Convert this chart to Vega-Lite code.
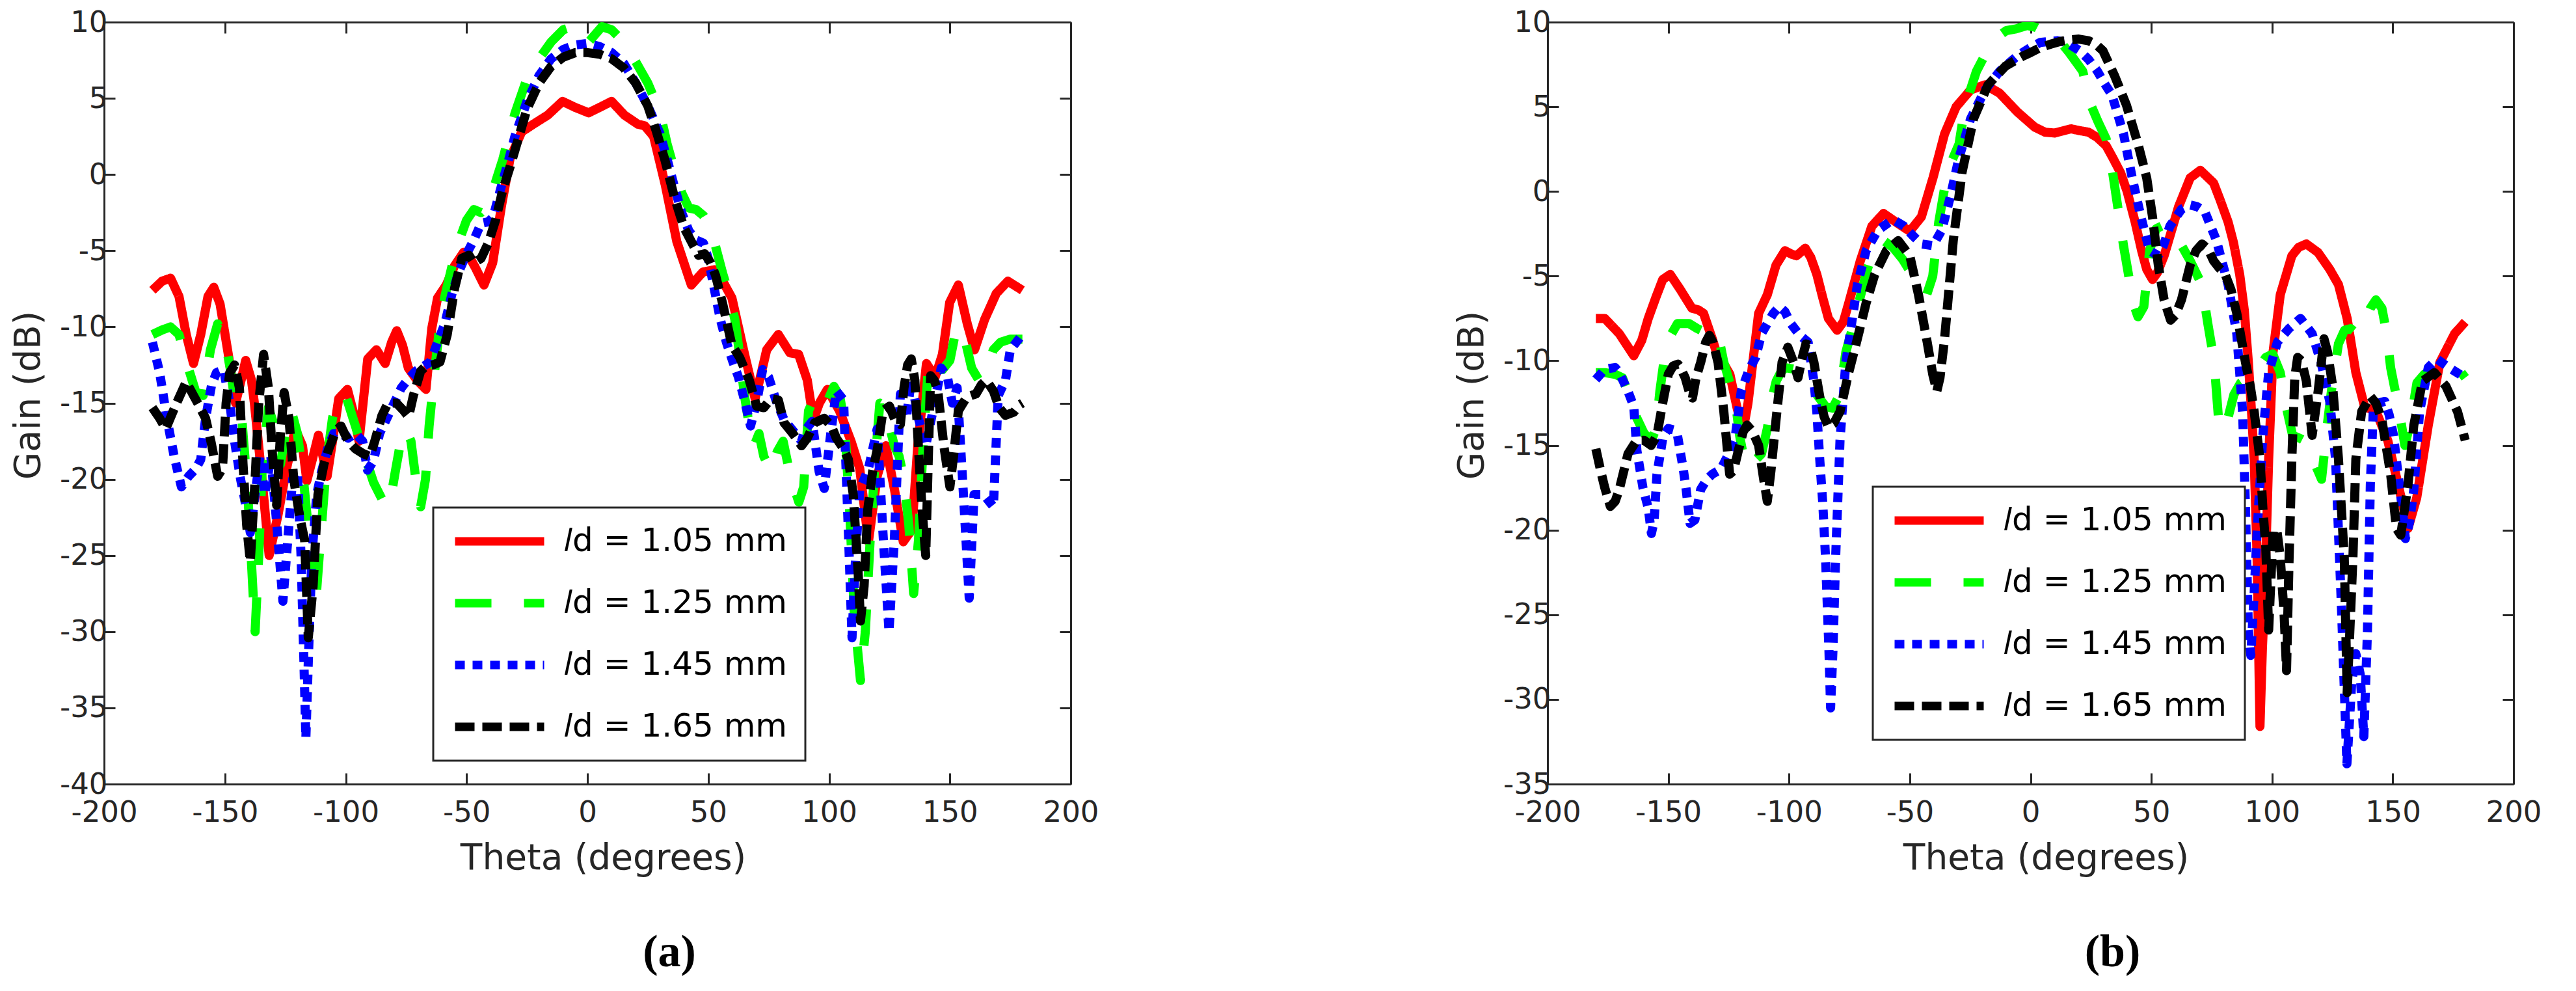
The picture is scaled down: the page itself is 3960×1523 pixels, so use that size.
{
  "$schema": "https://vega.github.io/schema/vega-lite/v6.json",
  "background": "white",
  "padding": {"left": 16, "top": 12, "right": 0, "bottom": 10},
  "datasets": {
    "a": [
      {"s":"1.05","x":-180,"y":-7.6},{"s":"1.05","x":-176,"y":-7},{"s":"1.05","x":-172.5,"y":-6.8},{"s":"1.05","x":-169,"y":-8},{"s":"1.05","x":-166,"y":-10.5},{"s":"1.05","x":-163,"y":-12.4},{"s":"1.05","x":-160,"y":-10.5},{"s":"1.05","x":-157,"y":-8},{"s":"1.05","x":-154.6,"y":-7.4},{"s":"1.05","x":-152,"y":-8.5},{"s":"1.05","x":-148.6,"y":-11.8},{"s":"1.05","x":-145.6,"y":-15},{"s":"1.05","x":-143,"y":-13.3},{"s":"1.05","x":-141.4,"y":-12.2},{"s":"1.05","x":-139,"y":-13.5},{"s":"1.05","x":-137.8,"y":-15},{"s":"1.05","x":-134.2,"y":-20.7},{"s":"1.05","x":-131.7,"y":-25},{"s":"1.05","x":-128.1,"y":-22.4},{"s":"1.05","x":-124.5,"y":-19.3},{"s":"1.05","x":-120.9,"y":-16.7},{"s":"1.05","x":-117.9,"y":-17.8},{"s":"1.05","x":-116.1,"y":-20.1},{"s":"1.05","x":-113.5,"y":-18.5},{"s":"1.05","x":-111.3,"y":-17.1},{"s":"1.05","x":-107.7,"y":-19.8},{"s":"1.05","x":-105,"y":-17},{"s":"1.05","x":-102.9,"y":-14.7},{"s":"1.05","x":-99.3,"y":-14.1},{"s":"1.05","x":-97,"y":-15.5},{"s":"1.05","x":-94.5,"y":-17.5},{"s":"1.05","x":-92.5,"y":-14.5},{"s":"1.05","x":-90.9,"y":-12.1},{"s":"1.05","x":-87.3,"y":-11.5},{"s":"1.05","x":-83.7,"y":-12.4},{"s":"1.05","x":-81,"y":-11},{"s":"1.05","x":-78.9,"y":-10.25},{"s":"1.05","x":-76.5,"y":-11.2},{"s":"1.05","x":-74.1,"y":-12.7},{"s":"1.05","x":-70.5,"y":-13.5},{"s":"1.05","x":-66.8,"y":-14.1},{"s":"1.05","x":-64.4,"y":-10.1},{"s":"1.05","x":-62,"y":-8.1},{"s":"1.05","x":-58.4,"y":-7.25},{"s":"1.05","x":-55,"y":-6},{"s":"1.05","x":-51.2,"y":-5.1},{"s":"1.05","x":-48.5,"y":-5.5},{"s":"1.05","x":-46.4,"y":-6.1},{"s":"1.05","x":-42.8,"y":-7.25},{"s":"1.05","x":-39.2,"y":-5.8},{"s":"1.05","x":-35.6,"y":-2.1},{"s":"1.05","x":-32,"y":1.05},{"s":"1.05","x":-27.2,"y":2.8},{"s":"1.05","x":-22.4,"y":3.3},{"s":"1.05","x":-16.4,"y":3.9},{"s":"1.05","x":-10.3,"y":4.8},{"s":"1.05","x":-5,"y":4.4},{"s":"1.05","x":0.5,"y":4.05},{"s":"1.05","x":5,"y":4.4},{"s":"1.05","x":10,"y":4.8},{"s":"1.05","x":15.3,"y":3.9},{"s":"1.05","x":20.9,"y":3.3},{"s":"1.05","x":23.7,"y":3.2},{"s":"1.05","x":27.4,"y":2.5},{"s":"1.05","x":32.2,"y":-0.67},{"s":"1.05","x":37,"y":-4.4},{"s":"1.05","x":43,"y":-7.25},{"s":"1.05","x":47.8,"y":-6.4},{"s":"1.05","x":52.6,"y":-6.25},{"s":"1.05","x":56,"y":-7},{"s":"1.05","x":59.8,"y":-8.1},{"s":"1.05","x":64.6,"y":-11.5},{"s":"1.05","x":69.4,"y":-14.7},{"s":"1.05","x":72,"y":-13},{"s":"1.05","x":74.2,"y":-11.5},{"s":"1.05","x":79,"y":-10.5},{"s":"1.05","x":83.8,"y":-11.7},{"s":"1.05","x":87.4,"y":-11.8},{"s":"1.05","x":91,"y":-13.5},{"s":"1.05","x":93.5,"y":-16.1},{"s":"1.05","x":96,"y":-15},{"s":"1.05","x":99.3,"y":-14.1},{"s":"1.05","x":104.3,"y":-15.5},{"s":"1.05","x":109.1,"y":-17.5},{"s":"1.05","x":112.7,"y":-19.3},{"s":"1.05","x":116.3,"y":-24.1},{"s":"1.05","x":119.9,"y":-19.8},{"s":"1.05","x":123.5,"y":-17.8},{"s":"1.05","x":127.1,"y":-20.7},{"s":"1.05","x":130.7,"y":-24.1},{"s":"1.05","x":134.3,"y":-23.3},{"s":"1.05","x":136.7,"y":-17.8},{"s":"1.05","x":140.3,"y":-12.4},{"s":"1.05","x":143.9,"y":-13.3},{"s":"1.05","x":146.9,"y":-11.8},{"s":"1.05","x":149.9,"y":-8.4},{"s":"1.05","x":153.5,"y":-7.25},{"s":"1.05","x":157.2,"y":-9.8},{"s":"1.05","x":160.2,"y":-11.5},{"s":"1.05","x":164.4,"y":-9.5},{"s":"1.05","x":169.2,"y":-7.8},{"s":"1.05","x":174,"y":-7},{"s":"1.05","x":180,"y":-7.6},

      {"s":"1.25","x":-180,"y":-10.5},{"s":"1.25","x":-176,"y":-10.2},{"s":"1.25","x":-172.5,"y":-10},{"s":"1.25","x":-169,"y":-10.5},{"s":"1.25","x":-165.5,"y":-12.5},{"s":"1.25","x":-162,"y":-14.3},{"s":"1.25","x":-159,"y":-14.5},{"s":"1.25","x":-156,"y":-11.5},{"s":"1.25","x":-153,"y":-9.8},{"s":"1.25","x":-150,"y":-10.8},{"s":"1.25","x":-147.5,"y":-13},{"s":"1.25","x":-145.5,"y":-15.3},{"s":"1.25","x":-143,"y":-16},{"s":"1.25","x":-140.5,"y":-21},{"s":"1.25","x":-138.5,"y":-27},{"s":"1.25","x":-137.5,"y":-30},{"s":"1.25","x":-136,"y":-25},{"s":"1.25","x":-134.5,"y":-19},{"s":"1.25","x":-132,"y":-15.3},{"s":"1.25","x":-129.5,"y":-16.5},{"s":"1.25","x":-127,"y":-19},{"s":"1.25","x":-125,"y":-17},{"s":"1.25","x":-122.5,"y":-15.5},{"s":"1.25","x":-120,"y":-17},{"s":"1.25","x":-117.5,"y":-20},{"s":"1.25","x":-115,"y":-24},{"s":"1.25","x":-112.5,"y":-28.3},{"s":"1.25","x":-110.5,"y":-24},{"s":"1.25","x":-108,"y":-19},{"s":"1.25","x":-105.5,"y":-16},{"s":"1.25","x":-103,"y":-14.5},{"s":"1.25","x":-100,"y":-14.5},{"s":"1.25","x":-97,"y":-16},{"s":"1.25","x":-94,"y":-17.5},{"s":"1.25","x":-91,"y":-19},{"s":"1.25","x":-88.5,"y":-20.2},{"s":"1.25","x":-85,"y":-21.3},{"s":"1.25","x":-82,"y":-21.8},{"s":"1.25","x":-79.5,"y":-19.5},{"s":"1.25","x":-77,"y":-17.3},{"s":"1.25","x":-75,"y":-16.7},{"s":"1.25","x":-73,"y":-17.5},{"s":"1.25","x":-71,"y":-20},{"s":"1.25","x":-69,"y":-21.8},{"s":"1.25","x":-67,"y":-20},{"s":"1.25","x":-65.5,"y":-16.5},{"s":"1.25","x":-63.5,"y":-13.3},{"s":"1.25","x":-61.5,"y":-10.5},{"s":"1.25","x":-59,"y":-8},{"s":"1.25","x":-56,"y":-6},{"s":"1.25","x":-53,"y":-4.3},{"s":"1.25","x":-50,"y":-3},{"s":"1.25","x":-47,"y":-2.3},{"s":"1.25","x":-44,"y":-2.5},{"s":"1.25","x":-41,"y":-2},{"s":"1.25","x":-38,"y":-0.5},{"s":"1.25","x":-35,"y":1},{"s":"1.25","x":-32,"y":2.8},{"s":"1.25","x":-30,"y":4},{"s":"1.25","x":-25,"y":6.3},{"s":"1.25","x":-20,"y":7.6},{"s":"1.25","x":-15,"y":8.7},{"s":"1.25","x":-10,"y":9.5},{"s":"1.25","x":-6,"y":9.7},{"s":"1.25","x":0,"y":8.6},{"s":"1.25","x":6,"y":9.7},{"s":"1.25","x":10,"y":9.5},{"s":"1.25","x":15,"y":8.7},{"s":"1.25","x":20,"y":7.4},{"s":"1.25","x":25,"y":6},{"s":"1.25","x":30,"y":4.1},{"s":"1.25","x":33,"y":2},{"s":"1.25","x":36,"y":0.3},{"s":"1.25","x":39,"y":-1.2},{"s":"1.25","x":42,"y":-2.2},{"s":"1.25","x":45,"y":-2.3},{"s":"1.25","x":48,"y":-2.7},{"s":"1.25","x":51,"y":-3.5},{"s":"1.25","x":53.5,"y":-5},{"s":"1.25","x":56,"y":-6.5},{"s":"1.25","x":58.5,"y":-7.8},{"s":"1.25","x":61,"y":-9.5},{"s":"1.25","x":63,"y":-11.8},{"s":"1.25","x":65,"y":-14.5},{"s":"1.25","x":67,"y":-16.5},{"s":"1.25","x":69,"y":-17.8},{"s":"1.25","x":71,"y":-17},{"s":"1.25","x":73,"y":-18.5},{"s":"1.25","x":76,"y":-19.5},{"s":"1.25","x":78.5,"y":-18.2},{"s":"1.25","x":81,"y":-17.5},{"s":"1.25","x":84,"y":-19.8},{"s":"1.25","x":87.5,"y":-21.5},{"s":"1.25","x":89.5,"y":-20.5},{"s":"1.25","x":91.5,"y":-15.5},{"s":"1.25","x":94,"y":-14.6},{"s":"1.25","x":96.5,"y":-15.2},{"s":"1.25","x":99,"y":-15},{"s":"1.25","x":102,"y":-13.9},{"s":"1.25","x":104.5,"y":-14.6},{"s":"1.25","x":106.5,"y":-16.5},{"s":"1.25","x":108.5,"y":-22},{"s":"1.25","x":110.5,"y":-29},{"s":"1.25","x":113,"y":-33.2},{"s":"1.25","x":115,"y":-30},{"s":"1.25","x":117,"y":-24},{"s":"1.25","x":119,"y":-19},{"s":"1.25","x":121,"y":-15},{"s":"1.25","x":123,"y":-15.2},{"s":"1.25","x":125,"y":-16.5},{"s":"1.25","x":127,"y":-17.8},{"s":"1.25","x":129,"y":-18.5},{"s":"1.25","x":131,"y":-20},{"s":"1.25","x":133,"y":-23},{"s":"1.25","x":135,"y":-27.5},{"s":"1.25","x":137,"y":-24},{"s":"1.25","x":139,"y":-17.5},{"s":"1.25","x":141,"y":-12.8},{"s":"1.25","x":144,"y":-12},{"s":"1.25","x":147,"y":-12.8},{"s":"1.25","x":150,"y":-12.2},{"s":"1.25","x":152,"y":-10.6},{"s":"1.25","x":154,"y":-10},{"s":"1.25","x":156.5,"y":-11},{"s":"1.25","x":159,"y":-12.7},{"s":"1.25","x":162,"y":-13.5},{"s":"1.25","x":165,"y":-12.8},{"s":"1.25","x":168,"y":-11.5},{"s":"1.25","x":171,"y":-11},{"s":"1.25","x":175,"y":-10.8},{"s":"1.25","x":180,"y":-10.8},

      {"s":"1.45","x":-180,"y":-11},{"s":"1.45","x":-177,"y":-13},{"s":"1.45","x":-174,"y":-16},{"s":"1.45","x":-171,"y":-18.5},{"s":"1.45","x":-168,"y":-20.5},{"s":"1.45","x":-165,"y":-19.8},{"s":"1.45","x":-162,"y":-19.3},{"s":"1.45","x":-160,"y":-18.7},{"s":"1.45","x":-158,"y":-16},{"s":"1.45","x":-155.5,"y":-13.8},{"s":"1.45","x":-153.5,"y":-13},{"s":"1.45","x":-150.5,"y":-12.8},{"s":"1.45","x":-148,"y":-15},{"s":"1.45","x":-146,"y":-17.5},{"s":"1.45","x":-143.5,"y":-20},{"s":"1.45","x":-141,"y":-22},{"s":"1.45","x":-139.5,"y":-23.5},{"s":"1.45","x":-137.5,"y":-21},{"s":"1.45","x":-135.5,"y":-18.5},{"s":"1.45","x":-133.5,"y":-21},{"s":"1.45","x":-131,"y":-18.5},{"s":"1.45","x":-128.5,"y":-23},{"s":"1.45","x":-126,"y":-28},{"s":"1.45","x":-124,"y":-24},{"s":"1.45","x":-122,"y":-20},{"s":"1.45","x":-120,"y":-19.5},{"s":"1.45","x":-118.5,"y":-25},{"s":"1.45","x":-117.3,"y":-32},{"s":"1.45","x":-116.5,"y":-37},{"s":"1.45","x":-115.3,"y":-31},{"s":"1.45","x":-114,"y":-25},{"s":"1.45","x":-112,"y":-21},{"s":"1.45","x":-110,"y":-19.5},{"s":"1.45","x":-107.5,"y":-18},{"s":"1.45","x":-105,"y":-17},{"s":"1.45","x":-102,"y":-17},{"s":"1.45","x":-99,"y":-17.3},{"s":"1.45","x":-96,"y":-17},{"s":"1.45","x":-93,"y":-17.5},{"s":"1.45","x":-91,"y":-19.4},{"s":"1.45","x":-88.5,"y":-18.8},{"s":"1.45","x":-86,"y":-17},{"s":"1.45","x":-83,"y":-16},{"s":"1.45","x":-80,"y":-15},{"s":"1.45","x":-77,"y":-14},{"s":"1.45","x":-74,"y":-13.4},{"s":"1.45","x":-71,"y":-12.9},{"s":"1.45","x":-68,"y":-12.6},{"s":"1.45","x":-65,"y":-12.3},{"s":"1.45","x":-62,"y":-11},{"s":"1.45","x":-59,"y":-9.8},{"s":"1.45","x":-56,"y":-7.8},{"s":"1.45","x":-53,"y":-6.3},{"s":"1.45","x":-50,"y":-5.2},{"s":"1.45","x":-47,"y":-4.3},{"s":"1.45","x":-44,"y":-3.2},{"s":"1.45","x":-41,"y":-3.1},{"s":"1.45","x":-39,"y":-2.8},{"s":"1.45","x":-36,"y":-1},{"s":"1.45","x":-33,"y":0.7},{"s":"1.45","x":-30,"y":2.5},{"s":"1.45","x":-25,"y":4.8},{"s":"1.45","x":-20,"y":6.5},{"s":"1.45","x":-15,"y":7.6},{"s":"1.45","x":-10,"y":8.2},{"s":"1.45","x":-5,"y":8.5},{"s":"1.45","x":0,"y":8.6},{"s":"1.45","x":5,"y":8.4},{"s":"1.45","x":10,"y":8},{"s":"1.45","x":15,"y":7.3},{"s":"1.45","x":20,"y":6},{"s":"1.45","x":25,"y":4.5},{"s":"1.45","x":30,"y":2.7},{"s":"1.45","x":33,"y":1},{"s":"1.45","x":36,"y":-0.8},{"s":"1.45","x":39,"y":-2.5},{"s":"1.45","x":42,"y":-3.7},{"s":"1.45","x":45,"y":-4.3},{"s":"1.45","x":48,"y":-4.5},{"s":"1.45","x":50,"y":-5.5},{"s":"1.45","x":52.5,"y":-7.5},{"s":"1.45","x":55,"y":-9.5},{"s":"1.45","x":57.5,"y":-11},{"s":"1.45","x":60,"y":-12.2},{"s":"1.45","x":62.5,"y":-13.3},{"s":"1.45","x":65,"y":-14.8},{"s":"1.45","x":67.5,"y":-16.5},{"s":"1.45","x":70,"y":-15},{"s":"1.45","x":72.5,"y":-12.8},{"s":"1.45","x":75,"y":-13.3},{"s":"1.45","x":78,"y":-14.8},{"s":"1.45","x":81.4,"y":-16.1},{"s":"1.45","x":85,"y":-16.8},{"s":"1.45","x":88.6,"y":-17.5},{"s":"1.45","x":90,"y":-16.8},{"s":"1.45","x":93,"y":-16.2},{"s":"1.45","x":95.9,"y":-19.5},{"s":"1.45","x":98,"y":-20.6},{"s":"1.45","x":100.7,"y":-17},{"s":"1.45","x":103,"y":-14.2},{"s":"1.45","x":106,"y":-14.8},{"s":"1.45","x":108,"y":-23.5},{"s":"1.45","x":109.5,"y":-30.4},{"s":"1.45","x":111,"y":-25},{"s":"1.45","x":112.7,"y":-20.7},{"s":"1.45","x":116.3,"y":-19.3},{"s":"1.45","x":119.9,"y":-16.7},{"s":"1.45","x":122.3,"y":-23.5},{"s":"1.45","x":124.8,"y":-30},{"s":"1.45","x":127,"y":-24},{"s":"1.45","x":129.5,"y":-14.4},{"s":"1.45","x":132,"y":-16},{"s":"1.45","x":134,"y":-13.5},{"s":"1.45","x":137,"y":-16},{"s":"1.45","x":140,"y":-17.8},{"s":"1.45","x":143,"y":-15.5},{"s":"1.45","x":146.4,"y":-12.7},{"s":"1.45","x":149,"y":-13.3},{"s":"1.45","x":151,"y":-15},{"s":"1.45","x":153,"y":-14},{"s":"1.45","x":155.5,"y":-20.7},{"s":"1.45","x":158,"y":-27.8},{"s":"1.45","x":160,"y":-21},{"s":"1.45","x":164,"y":-21},{"s":"1.45","x":168,"y":-21.8},{"s":"1.45","x":170,"y":-14.5},{"s":"1.45","x":173,"y":-13.5},{"s":"1.45","x":175,"y":-11.5},{"s":"1.45","x":179,"y":-10.7},{"s":"1.45","x":180,"y":-10.5},

      {"s":"1.65","x":-180,"y":-15.3},{"s":"1.65","x":-177,"y":-16},{"s":"1.65","x":-174.5,"y":-16.7},{"s":"1.65","x":-170,"y":-15},{"s":"1.65","x":-166,"y":-13.6},{"s":"1.65","x":-163,"y":-14.5},{"s":"1.65","x":-160.9,"y":-15.1},{"s":"1.65","x":-158,"y":-16},{"s":"1.65","x":-155.8,"y":-17.5},{"s":"1.65","x":-153,"y":-19.8},{"s":"1.65","x":-151,"y":-19.3},{"s":"1.65","x":-149.5,"y":-15},{"s":"1.65","x":-148,"y":-13},{"s":"1.65","x":-146,"y":-12.5},{"s":"1.65","x":-144,"y":-14},{"s":"1.65","x":-142.5,"y":-19},{"s":"1.65","x":-141,"y":-23},{"s":"1.65","x":-139.5,"y":-25.4},{"s":"1.65","x":-137.5,"y":-20},{"s":"1.65","x":-136,"y":-15},{"s":"1.65","x":-134,"y":-11.8},{"s":"1.65","x":-132,"y":-14},{"s":"1.65","x":-130.5,"y":-18},{"s":"1.65","x":-128.6,"y":-21.7},{"s":"1.65","x":-127,"y":-17},{"s":"1.65","x":-125.5,"y":-14.3},{"s":"1.65","x":-123.5,"y":-16},{"s":"1.65","x":-121.5,"y":-20},{"s":"1.65","x":-119,"y":-22.5},{"s":"1.65","x":-117,"y":-24},{"s":"1.65","x":-115.5,"y":-30.4},{"s":"1.65","x":-113.5,"y":-27},{"s":"1.65","x":-111.5,"y":-21},{"s":"1.65","x":-109,"y":-19},{"s":"1.65","x":-107,"y":-18},{"s":"1.65","x":-104,"y":-16.8},{"s":"1.65","x":-102,"y":-16.5},{"s":"1.65","x":-99,"y":-17.5},{"s":"1.65","x":-96,"y":-18},{"s":"1.65","x":-93,"y":-18.3},{"s":"1.65","x":-90,"y":-18.5},{"s":"1.65","x":-88,"y":-17.5},{"s":"1.65","x":-85,"y":-15.8},{"s":"1.65","x":-82.5,"y":-15},{"s":"1.65","x":-79,"y":-15},{"s":"1.65","x":-76,"y":-15.5},{"s":"1.65","x":-74,"y":-15.9},{"s":"1.65","x":-72,"y":-14.5},{"s":"1.65","x":-69,"y":-12.9},{"s":"1.65","x":-67,"y":-12.6},{"s":"1.65","x":-64,"y":-12.5},{"s":"1.65","x":-61,"y":-12.3},{"s":"1.65","x":-58,"y":-10.5},{"s":"1.65","x":-55,"y":-7.5},{"s":"1.65","x":-52,"y":-5.5},{"s":"1.65","x":-49,"y":-5.3},{"s":"1.65","x":-47,"y":-5.8},{"s":"1.65","x":-44,"y":-5.5},{"s":"1.65","x":-41,"y":-4.5},{"s":"1.65","x":-38,"y":-3},{"s":"1.65","x":-35,"y":-1},{"s":"1.65","x":-32,"y":0.5},{"s":"1.65","x":-29.6,"y":1.8},{"s":"1.65","x":-25,"y":4.3},{"s":"1.65","x":-20,"y":6},{"s":"1.65","x":-15,"y":7.1},{"s":"1.65","x":-10,"y":7.7},{"s":"1.65","x":-5,"y":8},{"s":"1.65","x":0,"y":8},{"s":"1.65","x":5,"y":7.9},{"s":"1.65","x":10,"y":7.6},{"s":"1.65","x":15,"y":7},{"s":"1.65","x":20,"y":6},{"s":"1.65","x":25,"y":4.5},{"s":"1.65","x":28.6,"y":2.8},{"s":"1.65","x":32,"y":1},{"s":"1.65","x":36,"y":-1.5},{"s":"1.65","x":40,"y":-3.5},{"s":"1.65","x":43,"y":-4.4},{"s":"1.65","x":46,"y":-5.3},{"s":"1.65","x":48.5,"y":-5.2},{"s":"1.65","x":51,"y":-5.8},{"s":"1.65","x":53,"y":-6.6},{"s":"1.65","x":56,"y":-8.5},{"s":"1.65","x":59.8,"y":-11.2},{"s":"1.65","x":63,"y":-12},{"s":"1.65","x":67,"y":-13.5},{"s":"1.65","x":70,"y":-15.2},{"s":"1.65","x":73,"y":-15.3},{"s":"1.65","x":76,"y":-14.7},{"s":"1.65","x":79,"y":-14.8},{"s":"1.65","x":81.4,"y":-16.3},{"s":"1.65","x":85,"y":-17},{"s":"1.65","x":88.6,"y":-17.8},{"s":"1.65","x":91,"y":-17.3},{"s":"1.65","x":94,"y":-16.3},{"s":"1.65","x":98,"y":-16},{"s":"1.65","x":101,"y":-16.5},{"s":"1.65","x":103,"y":-17.3},{"s":"1.65","x":106,"y":-18},{"s":"1.65","x":108,"y":-18.7},{"s":"1.65","x":110,"y":-21},{"s":"1.65","x":112,"y":-26},{"s":"1.65","x":113,"y":-29.3},{"s":"1.65","x":114.5,"y":-27},{"s":"1.65","x":116,"y":-22},{"s":"1.65","x":118,"y":-19.5},{"s":"1.65","x":120,"y":-18},{"s":"1.65","x":122.3,"y":-15.5},{"s":"1.65","x":125,"y":-15.2},{"s":"1.65","x":127.5,"y":-16.2},{"s":"1.65","x":129.5,"y":-16.4},{"s":"1.65","x":131,"y":-14},{"s":"1.65","x":132.5,"y":-12.5},{"s":"1.65","x":134,"y":-12.1},{"s":"1.65","x":135.5,"y":-13.5},{"s":"1.65","x":137,"y":-18},{"s":"1.65","x":138.5,"y":-22},{"s":"1.65","x":140,"y":-25},{"s":"1.65","x":141,"y":-19},{"s":"1.65","x":142,"y":-13.2},{"s":"1.65","x":143.5,"y":-13.5},{"s":"1.65","x":145,"y":-14.2},{"s":"1.65","x":147.5,"y":-17.8},{"s":"1.65","x":150,"y":-20.5},{"s":"1.65","x":151.5,"y":-18.5},{"s":"1.65","x":153.5,"y":-15.5},{"s":"1.65","x":157,"y":-14.6},{"s":"1.65","x":160.8,"y":-14.4},{"s":"1.65","x":163,"y":-13.8},{"s":"1.65","x":165,"y":-13.5},{"s":"1.65","x":168,"y":-14.2},{"s":"1.65","x":170.4,"y":-15.3},{"s":"1.65","x":173,"y":-15.8},{"s":"1.65","x":176.4,"y":-15.6},{"s":"1.65","x":179,"y":-15.1},{"s":"1.65","x":180,"y":-15}
    ],
    "b": [
      {"s":"1.05","x":-180,"y":-7.5},{"s":"1.05","x":-176.3,"y":-7.5},{"s":"1.05","x":-170.3,"y":-8.4},{"s":"1.05","x":-164.3,"y":-9.7},{"s":"1.05","x":-161,"y":-8.8},{"s":"1.05","x":-158.3,"y":-7.5},{"s":"1.05","x":-155,"y":-6.2},{"s":"1.05","x":-152.3,"y":-5.2},{"s":"1.05","x":-149.2,"y":-4.9},{"s":"1.05","x":-145,"y":-5.8},{"s":"1.05","x":-140.2,"y":-6.9},{"s":"1.05","x":-137.5,"y":-7},{"s":"1.05","x":-135.4,"y":-7.2},{"s":"1.05","x":-131.8,"y":-8.7},{"s":"1.05","x":-129,"y":-10},{"s":"1.05","x":-126.5,"y":-10.3},{"s":"1.05","x":-124.5,"y":-10.8},{"s":"1.05","x":-121.5,"y":-12.8},{"s":"1.05","x":-119,"y":-14.1},{"s":"1.05","x":-117,"y":-12.5},{"s":"1.05","x":-115,"y":-10.1},{"s":"1.05","x":-112.6,"y":-7.2},{"s":"1.05","x":-109,"y":-6.1},{"s":"1.05","x":-105.4,"y":-4.35},{"s":"1.05","x":-101.7,"y":-3.5},{"s":"1.05","x":-99,"y":-3.7},{"s":"1.05","x":-96.9,"y":-3.8},{"s":"1.05","x":-93.3,"y":-3.35},{"s":"1.05","x":-91,"y":-3.9},{"s":"1.05","x":-88.5,"y":-4.9},{"s":"1.05","x":-86,"y":-6.3},{"s":"1.05","x":-83.7,"y":-7.5},{"s":"1.05","x":-80.1,"y":-8.2},{"s":"1.05","x":-77.5,"y":-7.7},{"s":"1.05","x":-75.3,"y":-6.6},{"s":"1.05","x":-70.5,"y":-4.1},{"s":"1.05","x":-65.7,"y":-2.05},{"s":"1.05","x":-60.9,"y":-1.3},{"s":"1.05","x":-54.8,"y":-1.9},{"s":"1.05","x":-50,"y":-2.35},{"s":"1.05","x":-45.2,"y":-1.5},{"s":"1.05","x":-40.4,"y":0.8},{"s":"1.05","x":-35.6,"y":3.4},{"s":"1.05","x":-30.8,"y":5},{"s":"1.05","x":-24.8,"y":6},{"s":"1.05","x":-18.8,"y":6.3},{"s":"1.05","x":-12.8,"y":5.8},{"s":"1.05","x":-5.5,"y":4.7},{"s":"1.05","x":1.7,"y":3.8},{"s":"1.05","x":6,"y":3.5},{"s":"1.05","x":10,"y":3.45},{"s":"1.05","x":16.8,"y":3.7},{"s":"1.05","x":20,"y":3.6},{"s":"1.05","x":24,"y":3.5},{"s":"1.05","x":27.5,"y":3.2},{"s":"1.05","x":31.3,"y":2.7},{"s":"1.05","x":34,"y":2},{"s":"1.05","x":37.3,"y":1.1},{"s":"1.05","x":40,"y":0},{"s":"1.05","x":43.3,"y":-1.8},{"s":"1.05","x":46,"y":-3.5},{"s":"1.05","x":48.1,"y":-4.6},{"s":"1.05","x":50.5,"y":-5.2},{"s":"1.05","x":52.5,"y":-4.8},{"s":"1.05","x":55.3,"y":-3.8},{"s":"1.05","x":58,"y":-2.5},{"s":"1.05","x":61.3,"y":-0.9},{"s":"1.05","x":66.1,"y":0.8},{"s":"1.05","x":70.3,"y":1.25},{"s":"1.05","x":75.8,"y":0.5},{"s":"1.05","x":78.5,"y":-0.5},{"s":"1.05","x":81.8,"y":-1.8},{"s":"1.05","x":84,"y":-3},{"s":"1.05","x":86.6,"y":-4.9},{"s":"1.05","x":88.5,"y":-7},{"s":"1.05","x":90.2,"y":-10.1},{"s":"1.05","x":91.5,"y":-13},{"s":"1.05","x":92.6,"y":-15.8},{"s":"1.05","x":93.8,"y":-21.6},{"s":"1.05","x":95,"y":-31.6},{"s":"1.05","x":96,"y":-27},{"s":"1.05","x":96.8,"y":-24.4},{"s":"1.05","x":98.6,"y":-15.8},{"s":"1.05","x":100.4,"y":-9.5},{"s":"1.05","x":103.4,"y":-6.1},{"s":"1.05","x":108.2,"y":-3.8},{"s":"1.05","x":111,"y":-3.3},{"s":"1.05","x":114.2,"y":-3.1},{"s":"1.05","x":119,"y":-3.6},{"s":"1.05","x":123.9,"y":-4.6},{"s":"1.05","x":127.5,"y":-5.5},{"s":"1.05","x":131.1,"y":-7.5},{"s":"1.05","x":134.7,"y":-10.7},{"s":"1.05","x":138.3,"y":-12.7},{"s":"1.05","x":143.1,"y":-13},{"s":"1.05","x":147.9,"y":-14.7},{"s":"1.05","x":152.7,"y":-17.6},{"s":"1.05","x":156.3,"y":-19.9},{"s":"1.05","x":159.9,"y":-18.1},{"s":"1.05","x":164.7,"y":-13.8},{"s":"1.05","x":169.5,"y":-10.1},{"s":"1.05","x":175.6,"y":-8.4},{"s":"1.05","x":180,"y":-7.7},

      {"s":"1.25","x":-180,"y":-10.7},{"s":"1.25","x":-176.3,"y":-10.7},{"s":"1.25","x":-172,"y":-10.8},{"s":"1.25","x":-169,"y":-11},{"s":"1.25","x":-166.5,"y":-12},{"s":"1.25","x":-164.3,"y":-13},{"s":"1.25","x":-160,"y":-14.3},{"s":"1.25","x":-157,"y":-14.7},{"s":"1.25","x":-155,"y":-14},{"s":"1.25","x":-153.5,"y":-11.8},{"s":"1.25","x":-151.6,"y":-9.8},{"s":"1.25","x":-149,"y":-8.5},{"s":"1.25","x":-146.2,"y":-7.8},{"s":"1.25","x":-143.5,"y":-7.8},{"s":"1.25","x":-141.4,"y":-7.8},{"s":"1.25","x":-138,"y":-8.1},{"s":"1.25","x":-135,"y":-8.3},{"s":"1.25","x":-132,"y":-8.2},{"s":"1.25","x":-129.4,"y":-8.4},{"s":"1.25","x":-127,"y":-10.1},{"s":"1.25","x":-124.5,"y":-11.3},{"s":"1.25","x":-122.2,"y":-12.4},{"s":"1.25","x":-120.5,"y":-14.4},{"s":"1.25","x":-118,"y":-16.3},{"s":"1.25","x":-116,"y":-16.2},{"s":"1.25","x":-113.5,"y":-15.8},{"s":"1.25","x":-111.4,"y":-15.5},{"s":"1.25","x":-109,"y":-14},{"s":"1.25","x":-107,"y":-12.2},{"s":"1.25","x":-105.3,"y":-11.2},{"s":"1.25","x":-103.5,"y":-10.7},{"s":"1.25","x":-101.7,"y":-10.4},{"s":"1.25","x":-98,"y":-10.5},{"s":"1.25","x":-95,"y":-10.6},{"s":"1.25","x":-92.1,"y":-11},{"s":"1.25","x":-88.5,"y":-12},{"s":"1.25","x":-84.9,"y":-12.7},{"s":"1.25","x":-82,"y":-12.8},{"s":"1.25","x":-79,"y":-12},{"s":"1.25","x":-76.5,"y":-9.5},{"s":"1.25","x":-74,"y":-8.2},{"s":"1.25","x":-71.7,"y":-6.9},{"s":"1.25","x":-68,"y":-4.8},{"s":"1.25","x":-64.5,"y":-3.2},{"s":"1.25","x":-60.9,"y":-2.9},{"s":"1.25","x":-57,"y":-3.3},{"s":"1.25","x":-53,"y":-4},{"s":"1.25","x":-50,"y":-4.7},{"s":"1.25","x":-46.4,"y":-5.5},{"s":"1.25","x":-43,"y":-6.1},{"s":"1.25","x":-40.5,"y":-5},{"s":"1.25","x":-38,"y":-1.8},{"s":"1.25","x":-34.4,"y":1.2},{"s":"1.25","x":-29.6,"y":2.8},{"s":"1.25","x":-27.2,"y":5},{"s":"1.25","x":-22.4,"y":7.1},{"s":"1.25","x":-18,"y":8.3},{"s":"1.25","x":-14,"y":9.1},{"s":"1.25","x":-10,"y":9.5},{"s":"1.25","x":-6,"y":9.6},{"s":"1.25","x":-1.5,"y":9.8},{"s":"1.25","x":2,"y":9.7},{"s":"1.25","x":6,"y":9.4},{"s":"1.25","x":12,"y":8.9},{"s":"1.25","x":16,"y":8.2},{"s":"1.25","x":21.6,"y":7.1},{"s":"1.25","x":25,"y":5.1},{"s":"1.25","x":28,"y":4.1},{"s":"1.25","x":31.3,"y":3.1},{"s":"1.25","x":33.5,"y":1.6},{"s":"1.25","x":36.1,"y":-0.9},{"s":"1.25","x":38.5,"y":-3.2},{"s":"1.25","x":40.9,"y":-5.2},{"s":"1.25","x":43,"y":-6.8},{"s":"1.25","x":44.5,"y":-7.4},{"s":"1.25","x":46.9,"y":-6.8},{"s":"1.25","x":49.3,"y":-3.5},{"s":"1.25","x":52,"y":-2.2},{"s":"1.25","x":55,"y":-2},{"s":"1.25","x":58,"y":-2.1},{"s":"1.25","x":61,"y":-2.8},{"s":"1.25","x":66.1,"y":-4.1},{"s":"1.25","x":70.9,"y":-5.5},{"s":"1.25","x":73.4,"y":-7.8},{"s":"1.25","x":76,"y":-10},{"s":"1.25","x":78.2,"y":-14.1},{"s":"1.25","x":81,"y":-13.8},{"s":"1.25","x":84.2,"y":-12},{"s":"1.25","x":87,"y":-11.3},{"s":"1.25","x":90.2,"y":-11},{"s":"1.25","x":94,"y":-10.5},{"s":"1.25","x":97.4,"y":-9.8},{"s":"1.25","x":100.3,"y":-9.6},{"s":"1.25","x":103.4,"y":-10.7},{"s":"1.25","x":106,"y":-12.8},{"s":"1.25","x":108.5,"y":-14.4},{"s":"1.25","x":111.8,"y":-14.6},{"s":"1.25","x":114.5,"y":-14.8},{"s":"1.25","x":117.5,"y":-16},{"s":"1.25","x":120.5,"y":-17},{"s":"1.25","x":122.7,"y":-14},{"s":"1.25","x":125,"y":-11.3},{"s":"1.25","x":127.5,"y":-9},{"s":"1.25","x":130,"y":-8.2},{"s":"1.25","x":132.6,"y":-8.1},{"s":"1.25","x":135,"y":-8.4},{"s":"1.25","x":137.5,"y":-8},{"s":"1.25","x":140.7,"y":-6.9},{"s":"1.25","x":143,"y":-6.4},{"s":"1.25","x":145.5,"y":-6.9},{"s":"1.25","x":147.5,"y":-8.4},{"s":"1.25","x":149.1,"y":-10.4},{"s":"1.25","x":152.7,"y":-13},{"s":"1.25","x":155,"y":-15},{"s":"1.25","x":157.5,"y":-13.5},{"s":"1.25","x":160,"y":-11.3},{"s":"1.25","x":163,"y":-10.8},{"s":"1.25","x":166,"y":-10.7},{"s":"1.25","x":170,"y":-10.6},{"s":"1.25","x":176.8,"y":-10.4},{"s":"1.25","x":180,"y":-11},

      {"s":"1.45","x":-180,"y":-11.1},{"s":"1.45","x":-176.3,"y":-10.5},{"s":"1.45","x":-172,"y":-10.4},{"s":"1.45","x":-170.3,"y":-10.7},{"s":"1.45","x":-166.7,"y":-11.8},{"s":"1.45","x":-164.3,"y":-12.7},{"s":"1.45","x":-163,"y":-15.3},{"s":"1.45","x":-160.5,"y":-17.5},{"s":"1.45","x":-158.3,"y":-18.7},{"s":"1.45","x":-157,"y":-20.2},{"s":"1.45","x":-155.9,"y":-19.5},{"s":"1.45","x":-154.7,"y":-16.7},{"s":"1.45","x":-152.2,"y":-14.5},{"s":"1.45","x":-150,"y":-14},{"s":"1.45","x":-147.4,"y":-14.1},{"s":"1.45","x":-146.2,"y":-14.4},{"s":"1.45","x":-143.8,"y":-16.4},{"s":"1.45","x":-142.6,"y":-17.6},{"s":"1.45","x":-141,"y":-19.6},{"s":"1.45","x":-139,"y":-19.4},{"s":"1.45","x":-136.6,"y":-17.6},{"s":"1.45","x":-134,"y":-17},{"s":"1.45","x":-131.8,"y":-16.7},{"s":"1.45","x":-128.2,"y":-16.4},{"s":"1.45","x":-125,"y":-15.5},{"s":"1.45","x":-122.2,"y":-14.4},{"s":"1.45","x":-119.8,"y":-11.8},{"s":"1.45","x":-116.5,"y":-10.5},{"s":"1.45","x":-113.8,"y":-9.8},{"s":"1.45","x":-111.4,"y":-8.4},{"s":"1.45","x":-109,"y":-7.8},{"s":"1.45","x":-106.5,"y":-7.2},{"s":"1.45","x":-104,"y":-6.8},{"s":"1.45","x":-101.7,"y":-7.1},{"s":"1.45","x":-99.3,"y":-7.8},{"s":"1.45","x":-95.5,"y":-8.5},{"s":"1.45","x":-92.1,"y":-8.9},{"s":"1.45","x":-90.9,"y":-10.1},{"s":"1.45","x":-89.7,"y":-11.2},{"s":"1.45","x":-88.5,"y":-13},{"s":"1.45","x":-87.3,"y":-15.8},{"s":"1.45","x":-86,"y":-18.5},{"s":"1.45","x":-84.9,"y":-21.6},{"s":"1.45","x":-83.5,"y":-27},{"s":"1.45","x":-82.8,"y":-30.5},{"s":"1.45","x":-81.8,"y":-27},{"s":"1.45","x":-80.7,"y":-21.6},{"s":"1.45","x":-78.9,"y":-14.7},{"s":"1.45","x":-76.5,"y":-10.1},{"s":"1.45","x":-74.1,"y":-7.8},{"s":"1.45","x":-71.7,"y":-5.5},{"s":"1.45","x":-68.1,"y":-3.5},{"s":"1.45","x":-63.3,"y":-2.3},{"s":"1.45","x":-58.4,"y":-1.8},{"s":"1.45","x":-56.5,"y":-1.7},{"s":"1.45","x":-52.4,"y":-2.05},{"s":"1.45","x":-48.8,"y":-2.6},{"s":"1.45","x":-45.2,"y":-3.1},{"s":"1.45","x":-40.4,"y":-3.2},{"s":"1.45","x":-36.8,"y":-2.3},{"s":"1.45","x":-33.2,"y":-0.3},{"s":"1.45","x":-29.6,"y":2},{"s":"1.45","x":-24.8,"y":4.3},{"s":"1.45","x":-18.8,"y":6},{"s":"1.45","x":-12.8,"y":7.1},{"s":"1.45","x":-5.5,"y":8},{"s":"1.45","x":0,"y":8.5},{"s":"1.45","x":4,"y":8.8},{"s":"1.45","x":11,"y":8.9},{"s":"1.45","x":15,"y":8.8},{"s":"1.45","x":20.4,"y":8.3},{"s":"1.45","x":24,"y":7.8},{"s":"1.45","x":27.7,"y":7.1},{"s":"1.45","x":30.5,"y":6.4},{"s":"1.45","x":33.7,"y":5.7},{"s":"1.45","x":36,"y":4.6},{"s":"1.45","x":38.5,"y":3.4},{"s":"1.45","x":42.1,"y":0.8},{"s":"1.45","x":45.7,"y":-1.5},{"s":"1.45","x":49.3,"y":-3.5},{"s":"1.45","x":52.9,"y":-3.8},{"s":"1.45","x":55,"y":-3.2},{"s":"1.45","x":57.7,"y":-2.05},{"s":"1.45","x":62.5,"y":-1.05},{"s":"1.45","x":66.1,"y":-0.8},{"s":"1.45","x":69,"y":-0.9},{"s":"1.45","x":72.2,"y":-1.2},{"s":"1.45","x":77,"y":-2.9},{"s":"1.45","x":81.8,"y":-5.5},{"s":"1.45","x":85.4,"y":-8.4},{"s":"1.45","x":87.8,"y":-13},{"s":"1.45","x":89,"y":-18.7},{"s":"1.45","x":90.2,"y":-25.9},{"s":"1.45","x":91.2,"y":-27.4},{"s":"1.45","x":92.5,"y":-24},{"s":"1.45","x":93.8,"y":-20.1},{"s":"1.45","x":96.2,"y":-14.4},{"s":"1.45","x":98.6,"y":-10.7},{"s":"1.45","x":102.2,"y":-8.9},{"s":"1.45","x":107,"y":-8.1},{"s":"1.45","x":111.8,"y":-7.5},{"s":"1.45","x":116.6,"y":-8.4},{"s":"1.45","x":120.3,"y":-10.1},{"s":"1.45","x":123.9,"y":-12.4},{"s":"1.45","x":126.3,"y":-15.8},{"s":"1.45","x":128.7,"y":-24.4},{"s":"1.45","x":131,"y":-33.8},{"s":"1.45","x":133,"y":-29},{"s":"1.45","x":134.7,"y":-27.3},{"s":"1.45","x":136.5,"y":-28.5},{"s":"1.45","x":138,"y":-32.2},{"s":"1.45","x":139.5,"y":-26},{"s":"1.45","x":140.7,"y":-17.3},{"s":"1.45","x":141.9,"y":-13},{"s":"1.45","x":144,"y":-12.5},{"s":"1.45","x":146.7,"y":-12.4},{"s":"1.45","x":148.5,"y":-13.2},{"s":"1.45","x":150.3,"y":-14.4},{"s":"1.45","x":152,"y":-16.5},{"s":"1.45","x":153.9,"y":-18.7},{"s":"1.45","x":155.2,"y":-20.5},{"s":"1.45","x":157,"y":-19.5},{"s":"1.45","x":158.7,"y":-17.6},{"s":"1.45","x":161.1,"y":-13},{"s":"1.45","x":164.7,"y":-10.4},{"s":"1.45","x":168.3,"y":-9.9},{"s":"1.45","x":173.2,"y":-10.4},{"s":"1.45","x":180,"y":-11},

      {"s":"1.65","x":-180,"y":-15.2},{"s":"1.65","x":-178,"y":-16.5},{"s":"1.65","x":-176.3,"y":-17.5},{"s":"1.65","x":-174,"y":-18.6},{"s":"1.65","x":-172,"y":-18.3},{"s":"1.65","x":-170.3,"y":-17.6},{"s":"1.65","x":-166.7,"y":-15.5},{"s":"1.65","x":-163.1,"y":-14.7},{"s":"1.65","x":-160,"y":-14.7},{"s":"1.65","x":-157.1,"y":-15},{"s":"1.65","x":-154.7,"y":-14.4},{"s":"1.65","x":-152.2,"y":-12.4},{"s":"1.65","x":-150,"y":-10.8},{"s":"1.65","x":-148,"y":-10.3},{"s":"1.65","x":-146,"y":-10.2},{"s":"1.65","x":-145,"y":-10.4},{"s":"1.65","x":-143,"y":-11},{"s":"1.65","x":-141,"y":-12},{"s":"1.65","x":-140,"y":-12.2},{"s":"1.65","x":-138.5,"y":-11},{"s":"1.65","x":-136.6,"y":-10.1},{"s":"1.65","x":-134.5,"y":-8.9},{"s":"1.65","x":-133,"y":-8.5},{"s":"1.65","x":-131.5,"y":-8.9},{"s":"1.65","x":-129.4,"y":-10.1},{"s":"1.65","x":-127,"y":-13},{"s":"1.65","x":-124.6,"y":-16.7},{"s":"1.65","x":-123,"y":-16.5},{"s":"1.65","x":-121,"y":-15.3},{"s":"1.65","x":-119,"y":-14.2},{"s":"1.65","x":-117.4,"y":-13.8},{"s":"1.65","x":-115,"y":-14.2},{"s":"1.65","x":-112.6,"y":-15},{"s":"1.65","x":-110.5,"y":-17},{"s":"1.65","x":-109,"y":-18.3},{"s":"1.65","x":-107.5,"y":-16.5},{"s":"1.65","x":-105.4,"y":-13.5},{"s":"1.65","x":-102.9,"y":-10.1},{"s":"1.65","x":-100.5,"y":-9.2},{"s":"1.65","x":-98.1,"y":-10.1},{"s":"1.65","x":-96.3,"y":-11},{"s":"1.65","x":-94.5,"y":-9.8},{"s":"1.65","x":-93,"y":-9},{"s":"1.65","x":-91.5,"y":-9.1},{"s":"1.65","x":-89.7,"y":-10.1},{"s":"1.65","x":-87.3,"y":-12.1},{"s":"1.65","x":-85.5,"y":-13.3},{"s":"1.65","x":-83.7,"y":-13.9},{"s":"1.65","x":-81.5,"y":-13.7},{"s":"1.65","x":-78.9,"y":-13},{"s":"1.65","x":-75.3,"y":-10.7},{"s":"1.65","x":-71.7,"y":-8.7},{"s":"1.65","x":-68.1,"y":-6.6},{"s":"1.65","x":-64.5,"y":-4.9},{"s":"1.65","x":-59.7,"y":-3.5},{"s":"1.65","x":-54.8,"y":-2.9},{"s":"1.65","x":-50,"y":-3.8},{"s":"1.65","x":-46.4,"y":-6.1},{"s":"1.65","x":-42.8,"y":-8.9},{"s":"1.65","x":-40.5,"y":-10.8},{"s":"1.65","x":-38.8,"y":-11.8},{"s":"1.65","x":-37.5,"y":-11},{"s":"1.65","x":-35.6,"y":-8.7},{"s":"1.65","x":-32,"y":-2.9},{"s":"1.65","x":-28.4,"y":1.1},{"s":"1.65","x":-23.6,"y":4.3},{"s":"1.65","x":-17.6,"y":6.3},{"s":"1.65","x":-10.4,"y":7.4},{"s":"1.65","x":-3.1,"y":8},{"s":"1.65","x":0,"y":8.2},{"s":"1.65","x":4.1,"y":8.5},{"s":"1.65","x":8.4,"y":8.7},{"s":"1.65","x":12,"y":8.85},{"s":"1.65","x":16,"y":8.95},{"s":"1.65","x":20,"y":9},{"s":"1.65","x":24,"y":8.9},{"s":"1.65","x":27,"y":8.7},{"s":"1.65","x":30,"y":8.3},{"s":"1.65","x":34.9,"y":6.8},{"s":"1.65","x":39.7,"y":5.1},{"s":"1.65","x":44.5,"y":2.8},{"s":"1.65","x":48.1,"y":0.8},{"s":"1.65","x":50.5,"y":-1.5},{"s":"1.65","x":52.9,"y":-4.35},{"s":"1.65","x":55.3,"y":-6.4},{"s":"1.65","x":58,"y":-7.6},{"s":"1.65","x":60,"y":-7.3},{"s":"1.65","x":62.5,"y":-6.4},{"s":"1.65","x":66.1,"y":-4.35},{"s":"1.65","x":68.5,"y":-3.5},{"s":"1.65","x":71,"y":-3.1},{"s":"1.65","x":73.5,"y":-3.4},{"s":"1.65","x":75.8,"y":-4.1},{"s":"1.65","x":78,"y":-4.5},{"s":"1.65","x":80.6,"y":-4.9},{"s":"1.65","x":83,"y":-5.8},{"s":"1.65","x":85.4,"y":-7.2},{"s":"1.65","x":87,"y":-8.5},{"s":"1.65","x":89,"y":-10.1},{"s":"1.65","x":91,"y":-11.5},{"s":"1.65","x":92.6,"y":-13},{"s":"1.65","x":95,"y":-15.8},{"s":"1.65","x":96.2,"y":-18.7},{"s":"1.65","x":97.4,"y":-21},{"s":"1.65","x":98.6,"y":-25.9},{"s":"1.65","x":99.5,"y":-23},{"s":"1.65","x":100.5,"y":-20},{"s":"1.65","x":102,"y":-20},{"s":"1.65","x":103.4,"y":-21.6},{"s":"1.65","x":105,"y":-25},{"s":"1.65","x":106,"y":-28.3},{"s":"1.65","x":107,"y":-22},{"s":"1.65","x":108.2,"y":-15.8},{"s":"1.65","x":109.4,"y":-11},{"s":"1.65","x":110.6,"y":-9.8},{"s":"1.65","x":112.2,"y":-10},{"s":"1.65","x":114.2,"y":-11.2},{"s":"1.65","x":116.6,"y":-14.4},{"s":"1.65","x":119.1,"y":-11.8},{"s":"1.65","x":121.5,"y":-8.7},{"s":"1.65","x":123,"y":-9.5},{"s":"1.65","x":125.1,"y":-11.5},{"s":"1.65","x":127.5,"y":-15.8},{"s":"1.65","x":129.9,"y":-21.6},{"s":"1.65","x":131.1,"y":-29.6},{"s":"1.65","x":132.2,"y":-26},{"s":"1.65","x":133.5,"y":-21.6},{"s":"1.65","x":134.7,"y":-15.8},{"s":"1.65","x":137.1,"y":-13},{"s":"1.65","x":140.7,"y":-12.1},{"s":"1.65","x":143,"y":-12.5},{"s":"1.65","x":145.5,"y":-13.5},{"s":"1.65","x":149.1,"y":-16.7},{"s":"1.65","x":151.5,"y":-19.9},{"s":"1.65","x":153.3,"y":-20.3},{"s":"1.65","x":156.3,"y":-17.3},{"s":"1.65","x":158.7,"y":-13.8},{"s":"1.65","x":162.3,"y":-11.2},{"s":"1.65","x":167.2,"y":-10.7},{"s":"1.65","x":172,"y":-11.5},{"s":"1.65","x":176.8,"y":-13},{"s":"1.65","x":180,"y":-14.7}
    ]
  },
  "spacing": 546,
  "resolve": {"legend": {"color": "independent", "strokeDash": "independent"}},
  "hconcat": [
    {
      "width": 1486,
      "height": 1171,
      "data": {"name": "a"},
      "title": {"text": "(a)", "orient": "bottom", "anchor": "middle", "offset": 84, "dx": 126},
      "layer": [
        {
          "mark": {"type": "line", "strokeWidth": 14, "strokeCap": "butt", "strokeJoin": "round", "clip": true},
          "encoding": {
            "x": {"field": "x", "type": "quantitative", "scale": {"domain": [-200, 200], "nice": false, "zero": false},
                  "axis": {"orient": "bottom", "title": "Theta (degrees)", "values": [-200, -150, -100, -50, 0, 50, 100, 150, 200], "labelPadding": 38, "titlePadding": 21, "titleX": 767}},
            "y": {"field": "y", "type": "quantitative", "scale": {"domain": [-40, 10], "nice": false, "zero": false},
                  "axis": {"orient": "left", "title": "Gain (dB)", "values": [-40, -35, -30, -25, -20, -15, -10, -5, 0, 5, 10], "labelPadding": 12, "titlePadding": 19, "titleY": 573}},
            "color": {"field": "s", "type": "nominal", "scale": {"domain": ["1.05", "1.25", "1.45", "1.65"], "range": ["#ff0000", "#00ff00", "#0000ff", "#000000"]},
                      "legend": {"orient": "none", "legendX": 506, "legendY": 746, "title": null, "symbolType": "stroke", "labelExpr": "'𝑙d = ' + datum.label + ' mm'"}},
            "strokeDash": {"field": "s", "type": "nominal", "scale": {"domain": ["1.05", "1.25", "1.45", "1.65"], "range": [[1, 0], [56, 50], [15, 12], [30, 12]]},
                      "legend": {"orient": "none", "legendX": 506, "legendY": 746, "title": null, "symbolType": "stroke", "labelExpr": "'𝑙d = ' + datum.label + ' mm'"}}
          }
        },
        {
          "mark": {"type": "line", "opacity": 0},
          "encoding": {
            "x": {"field": "x", "type": "quantitative", "axis": {"orient": "top", "labels": false, "title": null, "values": [-200, -150, -100, -50, 0, 50, 100, 150, 200]}},
            "y": {"field": "y", "type": "quantitative", "axis": {"orient": "right", "labels": false, "title": null, "values": [-40, -35, -30, -25, -20, -15, -10, -5, 0, 5, 10]}}
          }
        }
      ]
    },
    {
      "width": 1485,
      "height": 1171,
      "data": {"name": "b"},
      "title": {"text": "(b)", "orient": "bottom", "anchor": "middle", "offset": 84, "dx": 126},
      "layer": [
        {
          "mark": {"type": "line", "strokeWidth": 14, "strokeCap": "butt", "strokeJoin": "round", "clip": true},
          "encoding": {
            "x": {"field": "x", "type": "quantitative", "scale": {"domain": [-200, 200], "nice": false, "zero": false},
                  "axis": {"orient": "bottom", "title": "Theta (degrees)", "values": [-200, -150, -100, -50, 0, 50, 100, 150, 200], "labelPadding": 38, "titlePadding": 21, "titleX": 766}},
            "y": {"field": "y", "type": "quantitative", "scale": {"domain": [-35, 10], "nice": false, "zero": false},
                  "axis": {"orient": "left", "title": "Gain (dB)", "values": [-35, -30, -25, -20, -15, -10, -5, 0, 5, 10], "labelPadding": 12, "titlePadding": 19, "titleY": 573}},
            "color": {"field": "s", "type": "nominal", "scale": {"domain": ["1.05", "1.25", "1.45", "1.65"], "range": ["#ff0000", "#00ff00", "#0000ff", "#000000"]},
                      "legend": {"orient": "none", "legendX": 500, "legendY": 714, "title": null, "symbolType": "stroke", "labelExpr": "'𝑙d = ' + datum.label + ' mm'"}},
            "strokeDash": {"field": "s", "type": "nominal", "scale": {"domain": ["1.05", "1.25", "1.45", "1.65"], "range": [[1, 0], [56, 50], [15, 12], [30, 12]]},
                      "legend": {"orient": "none", "legendX": 500, "legendY": 714, "title": null, "symbolType": "stroke", "labelExpr": "'𝑙d = ' + datum.label + ' mm'"}}
          }
        },
        {
          "mark": {"type": "line", "opacity": 0},
          "encoding": {
            "x": {"field": "x", "type": "quantitative", "axis": {"orient": "top", "labels": false, "title": null, "values": [-200, -150, -100, -50, 0, 50, 100, 150, 200]}},
            "y": {"field": "y", "type": "quantitative", "axis": {"orient": "right", "labels": false, "title": null, "values": [-35, -30, -25, -20, -15, -10, -5, 0, 5, 10]}}
          }
        }
      ]
    }
  ],
  "config": {
    "font": "DejaVu Sans",
    "view": {"stroke": null},
    "axis": {
      "grid": false,
      "domainColor": "#262626",
      "domainWidth": 3,
      "tickColor": "#262626",
      "tickWidth": 3,
      "tickSize": -17,
      "labelFont": "DejaVu Sans",
      "labelFontSize": 45,
      "labelColor": "#262626",
      "labelFlush": false,
      "labelOverlap": false,
      "labelExpr": "'' + datum.value",
      "titleFont": "DejaVu Sans",
      "titleFontSize": 55,
      "titleFontWeight": "normal",
      "titleColor": "#262626"
    },
    "legend": {
      "symbolType": "stroke",
      "symbolSize": 18769,
      "symbolStrokeWidth": 13,
      "clipHeight": 50,
      "labelFont": "DejaVu Sans",
      "labelFontSize": 50,
      "labelColor": "#000000",
      "labelOffset": 24,
      "labelLimit": 0,
      "rowPadding": 45,
      "padding": 27,
      "strokeColor": "#262626",
      "strokeWidth": 3,
      "fillColor": "#ffffff"
    },
    "title": {"font": "Liberation Serif", "fontSize": 70, "fontWeight": "bold", "color": "#000000"}
  }
}
